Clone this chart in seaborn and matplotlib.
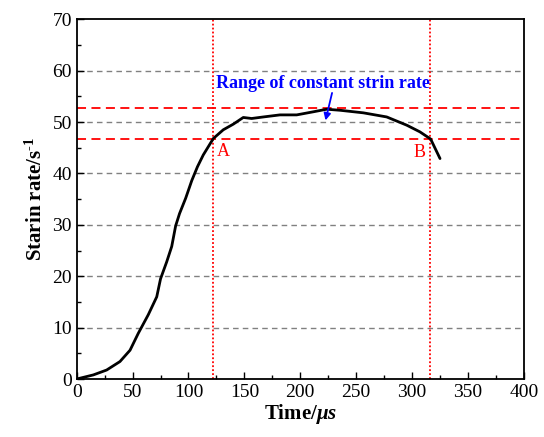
import numpy as np
import pandas as pd
import matplotlib
matplotlib.use("Agg")
import matplotlib.pyplot as plt
from matplotlib.ticker import MultipleLocator
import seaborn as sns

# strain rate curve
time_us = [0, 14.9, 26.8, 38.7, 47.7, 55.1, 64.0, 71.6, 75.0, 80.5, 85.0, 88.5, 92.0,
           97.5, 102.9, 108.0, 113.2, 122.2, 131.1, 140.1, 149.0, 156.5, 167.0, 181.8,
           196.8, 211.6, 223.6, 235.5, 256.4, 277.3, 295.2, 307.0, 316.6, 325.0]
strain_rate = [0, 0.8, 1.75, 3.4, 5.6, 8.9, 12.5, 16.0, 19.5, 22.8, 25.8, 29.8, 32.2,
               35.2, 38.6, 41.3, 43.6, 46.8, 48.5, 49.6, 50.9, 50.7, 51.0, 51.4,
               51.4, 52.0, 52.5, 52.3, 51.8, 51.0, 49.4, 48.1, 46.7, 42.9]
range_limits = [46.8, 52.7]   # constant strain rate band
point_times = [121.5, 316.0]  # A and B
point_labels = ["A", "B"]

df = pd.DataFrame({"t": time_us, "rate": strain_rate})

sns.set_style("ticks")
plt.rcParams["font.family"] = ["Liberation Serif", "DejaVu Serif"]
plt.rcParams["mathtext.fontset"] = "custom"
plt.rcParams["mathtext.rm"] = "Liberation Serif:bold"
plt.rcParams["mathtext.it"] = "Liberation Serif:italic:bold"
plt.rcParams["mathtext.bf"] = "Liberation Serif:bold"
for k in ["text.color", "axes.labelcolor", "xtick.color", "ytick.color"]:
    plt.rcParams[k] = "black"

fig = plt.figure(figsize=(5.44, 4.37), dpi=100)
ax = fig.add_axes([0.141, 0.1327, 0.822, 0.8231])

for v in range(10, 70, 10):
    ax.axhline(v, color="#808080", ls=(0, (4, 3)), lw=1, zorder=0)

sns.lineplot(data=df, x="t", y="rate", color="black", lw=2, ax=ax, zorder=3)
ax.lines[-1].set_solid_joinstyle("round")

for yv in range_limits:
    ax.axhline(yv, color="red", ls=(0, (5, 3)), lw=1.3, zorder=2)
for xv in point_times:
    ax.axvline(xv, color="red", ls=(0, (1, 1.2)), lw=1.3, zorder=2)

ax.text(131, 44.2, point_labels[0], color="red", fontsize=13, ha="center", va="center")
ax.text(307, 44.0, point_labels[1], color="red", fontsize=13, ha="center", va="center")

ax.text(220, 57.6, "Range of constant strin rate", color="blue", fontsize=13,
        fontweight="bold", ha="center", va="center")
ax.annotate("", xy=(222, 49.8), xytext=(229, 56.2),
            arrowprops=dict(arrowstyle="-|>", color="blue", lw=1.3, mutation_scale=10))

ax.set_xlim(0, 400)
ax.set_ylim(0, 70)
ax.xaxis.set_major_locator(MultipleLocator(50))
ax.xaxis.set_minor_locator(MultipleLocator(25))
ax.yaxis.set_major_locator(MultipleLocator(10))
ax.yaxis.set_minor_locator(MultipleLocator(5))
ax.tick_params(which="both", direction="in", top=False, right=False, labelsize=14)
ax.tick_params(which="major", length=5, width=1)
ax.tick_params(which="minor", length=3, width=1)
for s in ax.spines.values():
    s.set_linewidth(1.3)
    s.set_color("black")

ax.set_xlabel(r"Time/$\mu s$", fontsize=15, fontweight="bold", labelpad=1)
ax.set_ylabel("Starin rate/s$^{\\mathbf{\u2010}\\mathbf{1}}$", fontsize=15,
              fontweight="bold", labelpad=4)

fig.savefig("out.png", dpi=100)
